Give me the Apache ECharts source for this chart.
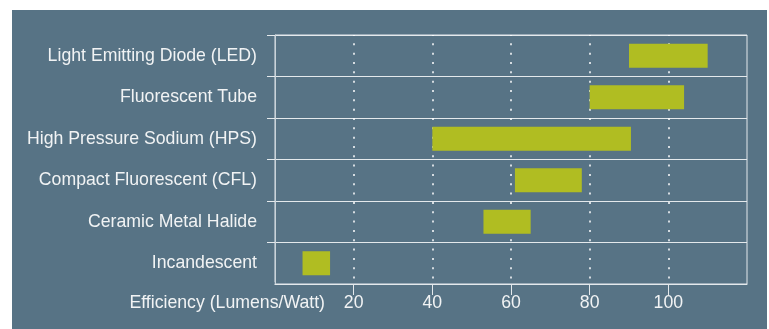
<!DOCTYPE html>
<html>
<head>
<meta charset="utf-8">
<script src="https://cdn.jsdelivr.net/npm/echarts@6/dist/echarts.min.js"></script>
<style>
  html, body { margin: 0; padding: 0; background: #ffffff; }
  #chart { position: absolute; left: 12px; top: 10px; width: 755px; height: 319px; }
</style>
</head>
<body>
<div id="chart"></div>
<script>
// Lamp technologies, top to bottom
const categories = [
  'Light Emitting Diode (LED)',
  'Fluorescent Tube',
  'High Pressure Sodium (HPS)',
  'Compact Fluorescent (CFL)',
  'Ceramic Metal Halide',
  'Incandescent'
];
// Efficiency range per technology, lumens per watt
const lowEfficiency  = [90, 80, 40, 61, 53, 7];
const highEfficiency = [110, 104, 90.5, 78, 65, 14];
// Labelled positions on the efficiency axis
const tickValues = [20, 40, 60, 80, 100];
const axisTitle = 'Efficiency (Lumens/Watt)';

const bgColor = '#577385';
const textColor = '#f1f3f4';
const lineColor = '#e4e9ec';
const font = '"Liberation Sans", Arial, Helvetica, sans-serif';

const rangeSpan = highEfficiency.map((v, i) => v - lowEfficiency[i]);

const chart = echarts.init(document.getElementById('chart'), null, { renderer: 'canvas' });
chart.setOption({
  backgroundColor: bgColor,
  animation: false,
  grid: {
    left: 263, right: 20, top: 25, bottom: 45,
    show: true, borderColor: lineColor, borderWidth: 1
  },
  xAxis: {
    type: 'value',
    min: 0, max: 120, interval: 20,
    axisLine: { show: true, lineStyle: { color: lineColor, width: 1 } },
    axisTick: {
      show: true, length: 11, customValues: tickValues,
      lineStyle: { color: lineColor, width: 1 }
    },
    axisLabel: {
      customValues: tickValues,
      color: textColor, fontSize: 17.7, fontFamily: font, margin: 10
    },
    splitLine: {
      show: true,
      lineStyle: { color: '#ffffff', width: 1.5, type: [2, 7.33], dashOffset: 1 }
    }
  },
  yAxis: {
    type: 'category',
    data: categories,
    inverse: true,
    axisLine: { show: true, lineStyle: { color: '#c9d3d9', width: 1 } },
    axisTick: { show: true, length: 8, lineStyle: { color: lineColor, width: 1 } },
    axisLabel: {
      color: textColor, fontSize: 17.7, fontFamily: font, margin: 18,
      padding: [3, 0, 0, 0]
    },
    splitLine: { show: true, lineStyle: { color: lineColor, width: 1 } }
  },
  graphic: [
    {
      type: 'text',
      x: 313, y: 293.6,
      style: {
        text: axisTitle,
        fill: textColor,
        font: '17.7px ' + font,
        textAlign: 'right',
        textVerticalAlign: 'middle'
      }
    },
    {
      // the lowest category boundary has no outward tick; the bottom axis closes the frame
      type: 'rect',
      z: 100,
      shape: { x: 253, y: 272, width: 9.5, height: 4 },
      style: { fill: bgColor }
    }
  ],
  series: [
    {
      name: 'base',
      type: 'bar',
      stack: 'range',
      data: lowEfficiency,
      barWidth: 24,
      itemStyle: { color: 'rgba(0,0,0,0)' },
      silent: true
    },
    {
      name: 'range',
      type: 'bar',
      stack: 'range',
      data: rangeSpan,
      barWidth: 24,
      itemStyle: { color: '#b0bd22' }
    }
  ]
});
</script>
</body>
</html>
